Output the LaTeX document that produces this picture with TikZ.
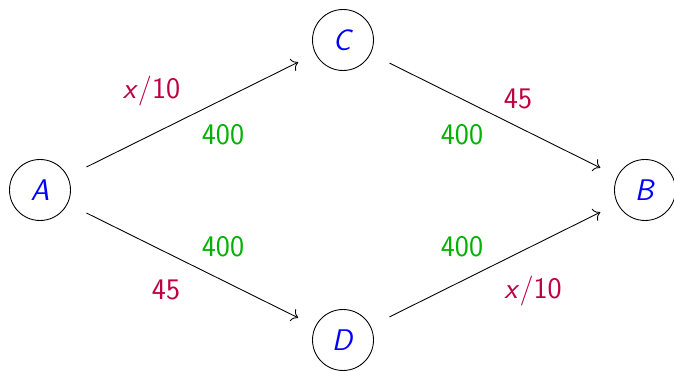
\documentclass[tikz,border=0pt]{standalone}
\usepackage{tikz}
\usetikzlibrary{arrows.meta}
\begin{document}
\begin{tikzpicture}[
  font=\sffamily\fontsize{17}{20}\selectfont,
  town/.style={draw, circle, minimum size=1.22cm, inner sep=0pt, text=blue, line width=0.5pt},
  road/.style={-{To[scale=1.35]}, line width=0.5pt, shorten <=0.42cm, shorten >=0.38cm},
  fee/.style={text=purple},
  limit/.style={text=green!70!black}]

 \useasboundingbox (0,0) rectangle (13.48,7.42);

 \node[town] (A) at (0.8,3.62) {\textit{A}};
 \node[town] (C) at (6.86,6.62) {\textit{C}};
 \node[town] (D) at (6.86,0.62) {\textit{D}};
 \node[town] (B) at (12.9,3.62) {\textit{B}};

   \draw[road] (A) -- (C);
   \draw[road] (C) -- (B);
   \draw[road] (A) -- (D);
   \draw[road] (D) -- (B);

   \node[fee] (ACfee) at (3.03,5.6) {\textit{x}/10};
   \node[limit] (AClim) at (4.46,4.72) {400};
   \node[fee] (CBfee) at (10.36,5.45) {45};
   \node[limit] (CBlim) at (9.24,4.72) {400};
   \node[limit] (ADlim) at (4.46,2.49) {400};
   \node[fee] (ADfee) at (3.32,1.63) {45};
   \node[limit] (DBlim) at (9.24,2.49) {400};
   \node[fee] (DBfee) at (10.66,1.6) {\textit{x}/10};

 \end{tikzpicture}
\end{document}
